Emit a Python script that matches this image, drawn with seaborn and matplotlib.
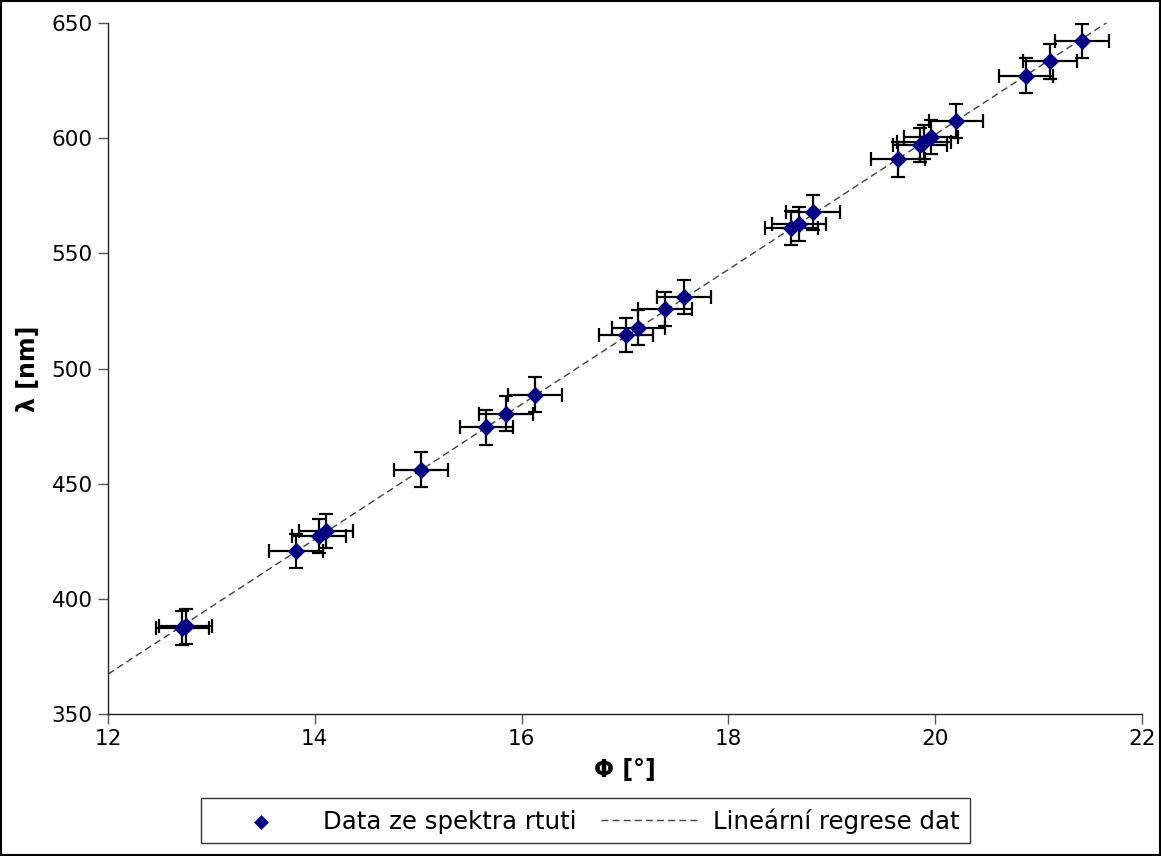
import numpy as np
import pandas as pd
import matplotlib.pyplot as plt
import seaborn as sns
from matplotlib.patches import Rectangle

# úhel a vlnová délka
phi = [12.72, 12.75, 13.82, 14.04, 14.11, 15.03, 15.66, 15.85, 16.13,
       17.01, 17.13, 17.39, 17.57, 18.61, 18.68, 18.82,
       19.64, 19.85, 19.89, 19.96, 20.20, 20.88, 21.11, 21.42]
lam = [387.3, 388.0, 420.7, 427.2, 429.4, 456.1, 474.5, 480.4, 488.6,
       514.6, 517.8, 525.9, 531.1, 561.0, 562.8, 567.8,
       590.8, 597.0, 598.3, 600.5, 607.4, 627.1, 633.3, 642.2]
phi_err = 0.26
lam_err = 7.5

df = pd.DataFrame({"phi": phi, "lam": lam})

sns.set_theme(style="white")
plt.rcParams['font.family'] = ['DejaVu Sans']
plt.rcParams['text.color'] = 'black'
plt.rcParams['axes.labelcolor'] = 'black'
plt.rcParams['xtick.color'] = '#555555'
plt.rcParams['ytick.color'] = '#555555'
plt.rcParams['xtick.labelcolor'] = 'black'
plt.rcParams['ytick.labelcolor'] = 'black'

fig = plt.figure(figsize=(11.61, 8.56), dpi=100)
ax = fig.add_axes([0.093, 0.1659, 0.8906, 0.8072])

# lineární regrese
k, q = np.polyfit(df["phi"], df["lam"], 1)
xs = np.array([12, 22])
reg = pd.DataFrame({"x": xs, "y": k * xs + q})
sns.lineplot(data=reg, x="x", y="y", ax=ax, color="#404040", lw=1,
             linestyle=(0, (5, 3)), label="Lineární regrese dat", zorder=1)

ax.errorbar(df["phi"], df["lam"], xerr=phi_err, yerr=lam_err, fmt="none",
            ecolor="black", elinewidth=1.6, capsize=5, capthick=1.6, zorder=2)
sns.scatterplot(data=df, x="phi", y="lam", ax=ax, marker="D", s=80,
                color="#000080", edgecolor="#000080", linewidth=0,
                label="Data ze spektra rtuti", zorder=3)

ax.set_xlim(12, 22)
ax.set_ylim(350, 650)
ax.set_xticks(range(12, 23, 2))
ax.set_yticks(range(350, 651, 50))
ax.set_xlabel("Φ [°]", fontsize=17, fontweight="bold", labelpad=6)
ax.set_ylabel("λ [nm]", fontsize=17, fontweight="bold", labelpad=8)
ax.tick_params(axis="both", labelsize=15.5, direction="out", length=7,
               width=1, left=True, bottom=True, pad=4)
for s in ["top", "right"]:
    ax.spines[s].set_visible(False)
for s in ["left", "bottom"]:
    ax.spines[s].set_color("#222222")
    ax.spines[s].set_linewidth(1)

h, l = ax.get_legend_handles_labels()
ax.get_legend().remove()
order = [l.index("Data ze spektra rtuti"), l.index("Lineární regrese dat")]
leg = fig.legend([h[i] for i in order], [l[i] for i in order], ncol=2,
                 loc="center", bbox_to_anchor=(0.504, 0.041), fontsize=17.6,
                 frameon=True, fancybox=False, edgecolor="black",
                 handlelength=4.1, handletextpad=0.5, columnspacing=1.0,
                 borderpad=0.4, markerscale=0.85)
leg.get_frame().set_linewidth(1)

fig.patches.append(Rectangle((0.001, 0.001), 0.998, 0.998, transform=fig.transFigure,
                             fill=False, edgecolor="black", lw=1.5))

fig.savefig("out.png", dpi=100)
